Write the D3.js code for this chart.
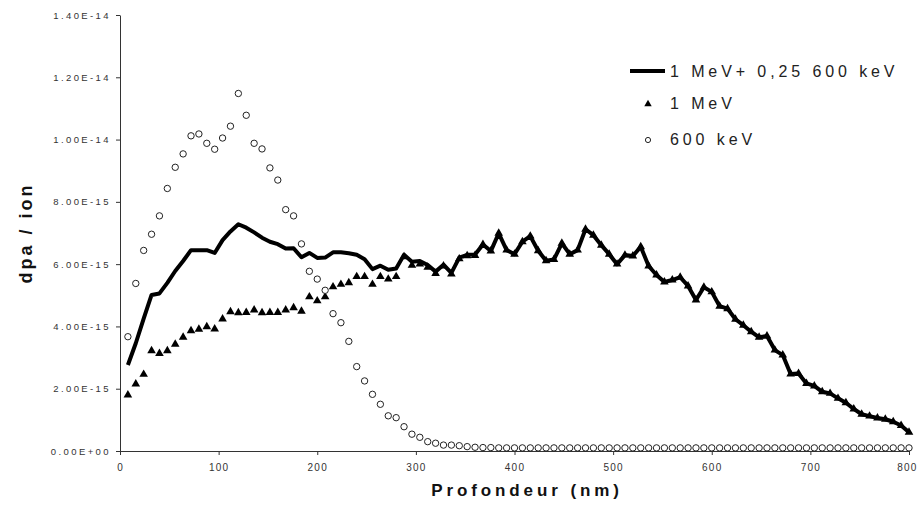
<!DOCTYPE html>
<html>
<head>
<meta charset="utf-8">
<script src="https://cdn.jsdelivr.net/npm/d3@7"></script>
<style>
  body { margin: 0; background: #fff; }
  svg { display: block; font-family: "Liberation Sans", Arial, sans-serif; }
</style>
</head>
<body>
<div id="chart"></div>
<script>
// Depth in nm (TRIM bins, 8 nm)
const depth = [
  8, 16, 24, 32, 40, 48, 56, 64, 72, 80, 88, 96, 104, 112, 120, 128, 136, 144, 152, 160,
  168, 176, 184, 192, 200, 208, 216, 224, 232, 240, 248, 256, 264, 272, 280, 288, 296, 304, 312, 320,
  328, 336, 344, 352, 360, 368, 376, 384, 392, 400, 408, 416, 424, 432, 440, 448, 456, 464, 472, 480,
  488, 496, 504, 512, 520, 528, 536, 544, 552, 560, 568, 576, 584, 592, 600, 608, 616, 624, 632, 640,
  648, 656, 664, 672, 680, 688, 696, 704, 712, 720, 728, 736, 744, 752, 760, 768, 776, 784, 792, 800
];

// dpa / ion values, in units of 1e-15
const mev1 = [
  1.80, 2.15, 2.46, 3.22, 3.13, 3.22, 3.43, 3.65, 3.86, 3.91, 3.99, 3.92, 4.24, 4.47, 4.44, 4.45, 4.53, 4.44, 4.45, 4.45,
  4.53, 4.60, 4.49, 4.95, 4.82, 4.95, 5.27, 5.35, 5.40, 5.60, 5.60, 5.35, 5.60, 5.52, 5.60, 6.24, 5.96, 6.00, 5.90, 5.70,
  5.94, 5.68, 6.17, 6.27, 6.28, 6.63, 6.42, 6.99, 6.45, 6.32, 6.72, 6.90, 6.43, 6.11, 6.15, 6.67, 6.32, 6.45, 7.12, 6.93,
  6.61, 6.32, 6.00, 6.29, 6.26, 6.56, 5.94, 5.65, 5.43, 5.49, 5.58, 5.30, 4.85, 5.26, 5.11, 4.65, 4.57, 4.23, 4.04, 3.83,
  3.65, 3.69, 3.24, 3.08, 2.47, 2.49, 2.17, 2.09, 1.90, 1.85, 1.69, 1.55, 1.35, 1.18, 1.12, 1.06, 1.02, 0.94, 0.82, 0.60
];

const kev600 = [
  3.67, 5.38, 6.44, 6.96, 7.55, 8.43, 9.11, 9.54, 10.12, 10.18, 9.88, 9.69, 10.05, 10.43, 11.48, 10.78, 9.88, 9.70, 9.09, 8.70,
  7.75, 7.55, 6.65, 5.77, 5.52, 5.16, 4.41, 4.12, 3.52, 2.71, 2.25, 1.82, 1.50, 1.13, 1.07, 0.78, 0.54, 0.44, 0.30, 0.25,
  0.19, 0.19, 0.17, 0.14, 0.12, 0.11, 0.11, 0.10, 0.10, 0.10, 0.10, 0.10, 0.10, 0.10, 0.10, 0.10, 0.10, 0.10, 0.10, 0.10,
  0.10, 0.10, 0.10, 0.10, 0.10, 0.10, 0.10, 0.10, 0.10, 0.10, 0.10, 0.10, 0.10, 0.10, 0.10, 0.10, 0.10, 0.10, 0.10, 0.10,
  0.10, 0.10, 0.10, 0.10, 0.10, 0.10, 0.10, 0.10, 0.10, 0.10, 0.10, 0.10, 0.10, 0.10, 0.10, 0.10, 0.10, 0.10, 0.10, 0.10
];

const combined = [
  2.76, 3.46, 4.25, 5.01, 5.06, 5.40, 5.78, 6.10, 6.45, 6.45, 6.45, 6.36, 6.77, 7.05, 7.28, 7.17, 7.02, 6.85, 6.72, 6.64,
  6.50, 6.51, 6.22, 6.36, 6.20, 6.21, 6.38, 6.38, 6.35, 6.30, 6.16, 5.84, 5.95, 5.82, 5.86, 6.30, 6.08, 6.10, 5.97, 5.76,
  5.98, 5.72, 6.21, 6.30, 6.31, 6.63, 6.42, 6.99, 6.45, 6.32, 6.72, 6.90, 6.43, 6.11, 6.15, 6.67, 6.32, 6.45, 7.12, 6.93,
  6.61, 6.32, 6.00, 6.29, 6.26, 6.56, 5.94, 5.65, 5.43, 5.49, 5.58, 5.30, 4.85, 5.26, 5.11, 4.65, 4.57, 4.23, 4.04, 3.83,
  3.65, 3.69, 3.24, 3.08, 2.47, 2.49, 2.17, 2.09, 1.90, 1.85, 1.69, 1.55, 1.35, 1.18, 1.12, 1.06, 1.02, 0.94, 0.82, 0.60
];

const xTicks = [0, 100, 200, 300, 400, 500, 600, 700, 800];
const yTicks = [0, 2, 4, 6, 8, 10, 12, 14];
const yTickLabels = ["0.00E+00", "2.00E-15", "4.00E-15", "6.00E-15", "8.00E-15", "1.00E-14", "1.20E-14", "1.40E-14"];

const legendLabels = ["1 MeV+ 0,25 600 keV", "1 MeV", "600 keV"];

const W = 917, H = 514;
const margin = { top: 15, right: 8, bottom: 63, left: 120 };

const svg = d3.select('#chart')
    .append('svg')
    .attr('width', W)
    .attr('height', H);

svg.append('rect').attr('width', W).attr('height', H).attr('fill', '#fff');

const x = d3.scaleLinear()
    .domain([0, 800])
    .range([margin.left, W - margin.right]);

const y = d3.scaleLinear()
    .domain([0, 14])
    .range([H - margin.bottom, margin.top]);

// Y axis
const yAxis = svg.append('g')
    .attr('transform', `translate(${margin.left},0)`)
    .call(d3.axisLeft(y)
        .tickValues(yTicks)
        .tickSize(4)
        .tickSizeOuter(0)
        .tickFormat((d, i) => yTickLabels[i]));
yAxis.select('.domain').attr('stroke', '#333');
yAxis.selectAll('.tick line').attr('stroke', '#333');
yAxis.selectAll('text')
    .attr('x', -9)
    .style('font-size', '9.5px')
    .style('letter-spacing', '2.4px')
    .style('fill', '#333');

// X axis
const xAxis = svg.append('g')
    .attr('transform', `translate(0,${H - margin.bottom})`)
    .call(d3.axisBottom(x)
        .tickValues(xTicks)
        .tickSize(4)
        .tickSizeOuter(0));
xAxis.select('.domain').attr('stroke', '#333');
xAxis.selectAll('.tick line').attr('stroke', '#333');
xAxis.selectAll('text')
    .attr('y', 13)
    .style('font-size', '10px')
    .style('letter-spacing', '1.2px')
    .style('fill', '#333');
// keep the last label inside the page
xAxis.selectAll('.tick text').filter(d => d === 800).attr('text-anchor', 'end').attr('x', 8);

// Axis titles
svg.append('text')
    .attr('x', 527)
    .attr('y', 496)
    .attr('text-anchor', 'middle')
    .style('font-size', '17px')
    .style('font-weight', 'bold')
    .style('letter-spacing', '3.9px')
    .style('fill', '#111')
    .text('Profondeur (nm)');

svg.append('text')
    .attr('transform', 'translate(32,233) rotate(-90)')
    .attr('text-anchor', 'middle')
    .style('font-size', '18px')
    .style('font-weight', 'bold')
    .style('letter-spacing', '3px')
    .style('fill', '#111')
    .text('dpa / ion');

// Combined line
const line = d3.line()
    .x((d, i) => x(depth[i]))
    .y(d => y(d));

svg.append('path')
    .datum(combined)
    .attr('d', line)
    .attr('fill', 'none')
    .attr('stroke', '#000')
    .attr('stroke-width', 4)
    .attr('stroke-linejoin', 'round');

// 1 MeV triangles
const tri = d3.symbol().type(d3.symbolTriangle).size(32);
svg.append('g')
    .selectAll('path')
    .data(mev1)
    .enter()
    .append('path')
    .attr('d', tri)
    .attr('transform', (d, i) => `translate(${x(depth[i])},${y(d)})`)
    .attr('fill', '#000');

// 600 keV circles
svg.append('g')
    .selectAll('circle')
    .data(kev600)
    .enter()
    .append('circle')
    .attr('cx', (d, i) => x(depth[i]))
    .attr('cy', d => y(d))
    .attr('r', 3.2)
    .attr('fill', '#fff')
    .attr('stroke', '#222')
    .attr('stroke-width', 1);

// Legend
const legend = svg.append('g');
const rowY = [71, 103, 139];

legend.append('line')
    .attr('x1', 630).attr('x2', 665)
    .attr('y1', rowY[0]).attr('y2', rowY[0])
    .attr('stroke', '#000')
    .attr('stroke-width', 4);

legend.append('path')
    .attr('d', d3.symbol().type(d3.symbolTriangle).size(24))
    .attr('transform', `translate(648,${rowY[1] + 1})`)
    .attr('fill', '#000');

legend.append('circle')
    .attr('cx', 648).attr('cy', rowY[2] + 1)
    .attr('r', 2.6)
    .attr('fill', '#fff')
    .attr('stroke', '#222');

legendLabels.forEach((label, i) => {
    legend.append('text')
        .attr('x', 670)
        .attr('y', rowY[i] + 6)
        .style('font-size', '16px')
        .style('letter-spacing', '3.9px')
        .style('fill', '#222')
        .text(label);
});
</script>
</body>
</html>
